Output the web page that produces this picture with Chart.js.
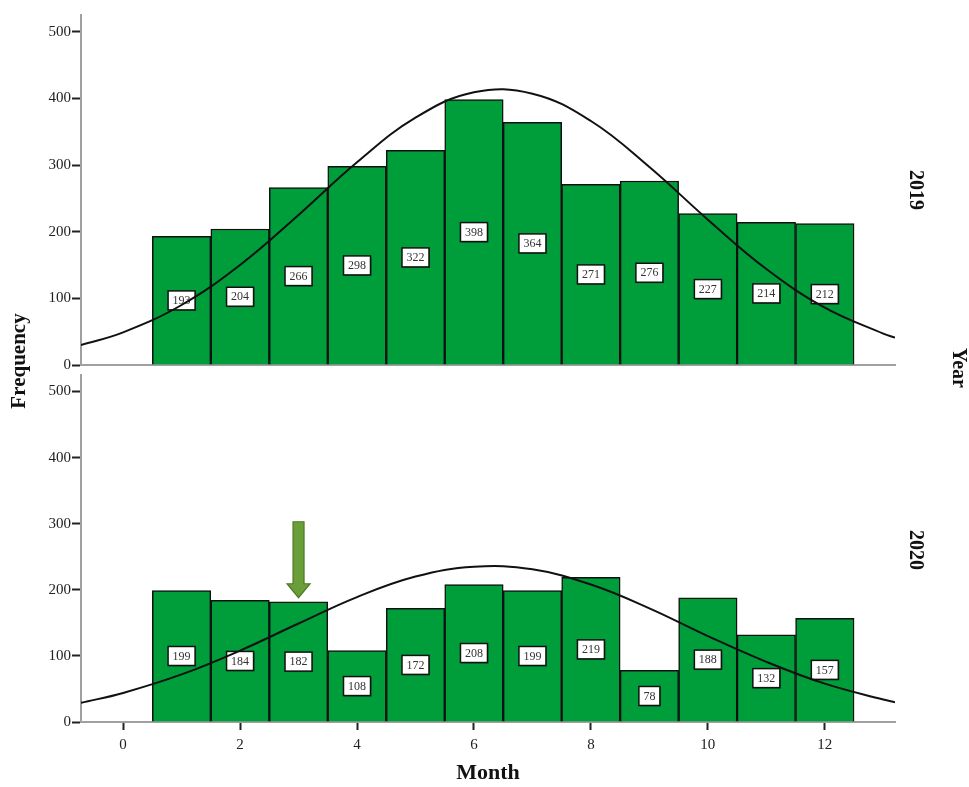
<!DOCTYPE html>
<html>
<head>
<meta charset="utf-8">
<script src="https://cdn.jsdelivr.net/npm/chart.js@4/dist/chart.umd.min.js"></script>
<style>
  html, body { margin: 0; padding: 0; background: #fff; }
  #wrap { position: relative; width: 969px; height: 787px; }
  #wrap canvas { position: absolute; left: 0; top: 0; }
</style>
</head>
<body>
<div id="wrap">
  <canvas id="c2019" width="969" height="787"></canvas>
  <canvas id="c2020" width="969" height="787"></canvas>
</div>
<script>
// ---- data ----
const months = [1, 2, 3, 4, 5, 6, 7, 8, 9, 10, 11, 12];
const freq2019 = [193, 204, 266, 298, 322, 398, 364, 271, 276, 227, 214, 212];
const freq2020 = [199, 184, 182, 108, 172, 208, 199, 219, 78, 188, 132, 157];
// normal curve points
const curveX = [-0.72, 0, 1, 2, 3, 4, 5, 6, 7, 8, 9, 10, 11, 12, 13, 13.2];
const curve2019 = [30, 49, 90, 150, 225, 304, 371, 409, 407, 366, 297, 218, 144, 86, 47, 41];
const curve2020 = [29, 44, 72, 108, 149, 189, 220, 235, 231, 208, 172, 130, 91, 58, 34, 30];
const yTicks = [0, 100, 200, 300, 400, 500];
const xTicks = [0, 2, 4, 6, 8, 10, 12];
const yearLabels = ['2019', '2020'];
const highlightMonth = 3;

const SERIF = '"Liberation Serif", "DejaVu Serif", serif';
const GREEN = 'rgb(0,158,58)';

function pts(xs, ys) { return xs.map((x, i) => ({ x: x, y: ys[i] })); }

const labelPlugin = {
  id: 'barLabels',
  afterDatasetDraw(chart, args) {
    if (args.meta.type !== 'bar') return;
    const ctx = chart.ctx;
    const ds = chart.data.datasets[args.index];
    ctx.save();
    ctx.font = '12px ' + SERIF;
    ctx.textAlign = 'center';
    ctx.textBaseline = 'middle';
    args.meta.data.forEach((el, i) => {
      const v = ds.data[i].y;
      const txt = String(v);
      const cx = el.x;
      const cy = (el.y + el.base) / 2;
      const w = Math.max(ctx.measureText(txt).width + 9, 19);
      const h = 19;
      ctx.fillStyle = 'rgba(0,0,0,0.35)';
      ctx.fillRect(cx - w / 2 + 1, cy - h / 2 + 1, w, h);
      ctx.fillStyle = '#fff';
      ctx.fillRect(cx - w / 2, cy - h / 2, w, h);
      ctx.strokeStyle = '#111';
      ctx.lineWidth = 1.5;
      ctx.strokeRect(cx - w / 2, cy - h / 2, w, h);
      ctx.fillStyle = '#333';
      ctx.fillText(txt, cx, cy + 0.5);
    });
    ctx.restore();
  }
};

const textPlugin = {
  id: 'sideTexts',
  afterDraw(chart, args, opts) {
    const ctx = chart.ctx;
    ctx.save();
    ctx.fillStyle = '#111';
    ctx.textAlign = 'center';
    ctx.textBaseline = 'middle';
    (opts.items || []).forEach(it => {
      ctx.save();
      ctx.font = 'bold ' + it.size + 'px ' + SERIF;
      ctx.translate(it.x, it.y);
      ctx.rotate(it.rot);
      ctx.fillText(it.text, 0, 0);
      ctx.restore();
    });
    ctx.restore();
  }
};

const arrowPlugin = {
  id: 'arrow',
  afterDraw(chart, args, opts) {
    if (!opts.show) return;
    const ctx = chart.ctx;
    const xs = chart.scales.x, ys = chart.scales.y;
    const cx = xs.getPixelForValue(opts.x);
    const tip = ys.getPixelForValue(opts.tipValue);
    const top = ys.getPixelForValue(opts.topValue);
    const headH = 14, shaftW = 11, headW = 23;
    ctx.save();
    ctx.beginPath();
    ctx.moveTo(cx - shaftW / 2, top);
    ctx.lineTo(cx + shaftW / 2, top);
    ctx.lineTo(cx + shaftW / 2, tip - headH);
    ctx.lineTo(cx + headW / 2, tip - headH);
    ctx.lineTo(cx, tip);
    ctx.lineTo(cx - headW / 2, tip - headH);
    ctx.lineTo(cx - shaftW / 2, tip - headH);
    ctx.closePath();
    ctx.fillStyle = '#6a9e38';
    ctx.fill();
    ctx.strokeStyle = '#4d7a26';
    ctx.lineWidth = 1.2;
    ctx.stroke();
    ctx.restore();
  }
};

function makeChart(id, bars, curve, isBottom, extraTexts, arrow) {
  return new Chart(document.getElementById(id), {
    type: 'bar',
    data: {
      datasets: [
        {
          type: 'bar',
          data: pts(months, bars),
          backgroundColor: GREEN,
          borderColor: '#111',
          borderWidth: 1.5,
          barPercentage: 1.0,
          categoryPercentage: 1.0,
          order: 2
        },
        {
          type: 'line',
          data: pts(curveX, curve),
          borderColor: '#111',
          borderWidth: 2,
          pointRadius: 0,
          tension: 0.4,
          fill: false,
          order: 1
        }
      ]
    },
    options: {
      responsive: false,
      animation: false,
      events: [],
      layout: { padding: isBottom ? { top: 375, bottom: 0, left: 0, right: 74 } : { top: 15, bottom: 422, left: 0, right: 74 } },
      plugins: {
        legend: { display: false },
        tooltip: { enabled: false },
        sideTexts: { items: extraTexts },
        arrow: arrow
      },
      scales: {
        x: {
          type: 'linear',
          min: -0.72,
          max: 13.2,
          offset: false,
          afterBuildTicks: ax => { ax.ticks = xTicks.map(v => ({ value: v })); },
          afterFit: ax => { ax.height = isBottom ? 65 : 0; },
          grid: {
            display: true,
            offset: false,
            drawOnChartArea: false,
            drawTicks: isBottom,
            tickLength: 8,
            tickColor: '#222',
            tickWidth: 2
          },
          border: { display: true, color: '#a0a0a0', width: 2 },
          ticks: {
            display: isBottom,
            color: '#222',
            padding: 6,
            maxRotation: 0,
            font: { family: SERIF, size: 15 }
          },
          title: {
            display: isBottom,
            text: 'Month',
            color: '#111',
            padding: { top: 0, bottom: 0 },
            font: { family: SERIF, size: 22, weight: 'bold' }
          }
        },
        y: {
          type: 'linear',
          min: 0,
          max: 525,
          afterBuildTicks: ax => { ax.ticks = yTicks.map(v => ({ value: v })); },
          afterFit: ax => { ax.width = 81; },
          grid: {
            display: true,
            drawOnChartArea: false,
            drawTicks: true,
            tickLength: 9,
            tickColor: '#222',
            tickWidth: 2
          },
          border: { display: true, color: '#a0a0a0', width: 2 },
          ticks: {
            color: '#222',
            padding: 1,
            font: { family: SERIF, size: 15 }
          }
        }
      }
    },
    plugins: [labelPlugin, textPlugin, arrowPlugin]
  });
}

makeChart('c2019', freq2019, curve2019, false, [
  { text: yearLabels[0], x: 915, y: 190, rot: Math.PI / 2, size: 20 },
  { text: 'Year', x: 958, y: 368, rot: Math.PI / 2, size: 20 },
  { text: 'Frequency', x: 20, y: 361, rot: -Math.PI / 2, size: 21 }
], { show: false });

makeChart('c2020', freq2020, curve2020, true, [
  { text: yearLabels[1], x: 915, y: 550, rot: Math.PI / 2, size: 20 }
], { show: true, x: highlightMonth, tipValue: 188, topValue: 303 });
</script>
</body>
</html>
